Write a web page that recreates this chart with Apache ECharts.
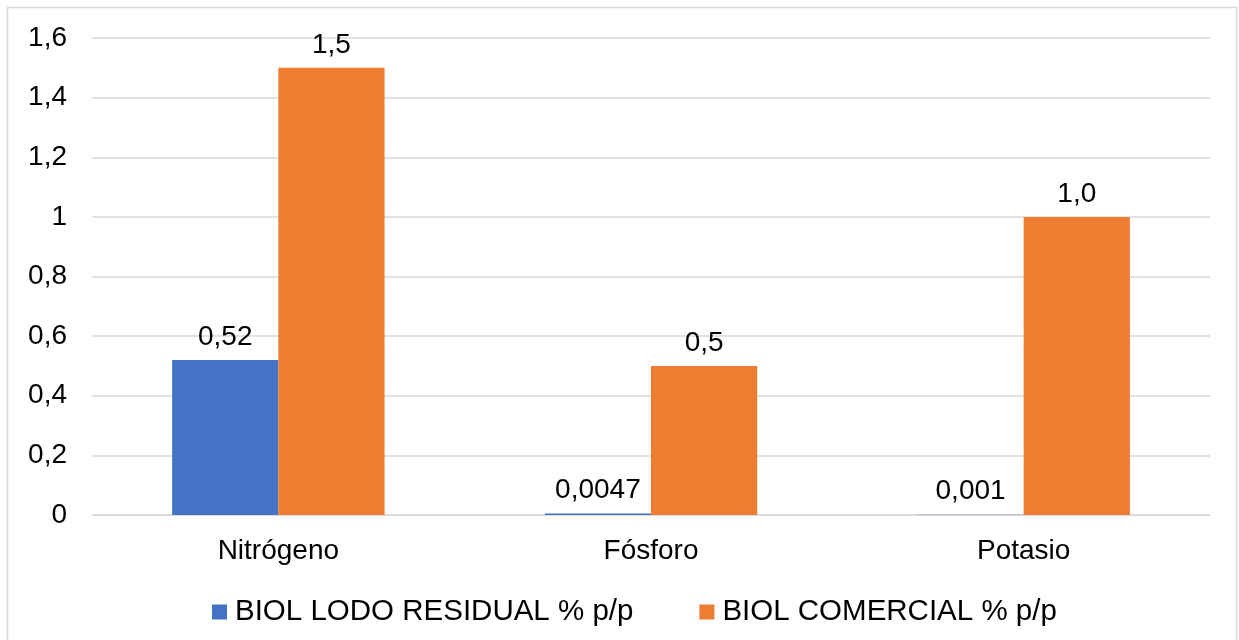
<!DOCTYPE html>
<html>
<head>
<meta charset="utf-8">
<script src="https://cdn.jsdelivr.net/npm/echarts@6/dist/echarts.min.js"></script>
<style>
  html, body { margin: 0; padding: 0; background: #fff; }
  #chart { width: 1239px; height: 640px; }
</style>
</head>
<body>
<div id="chart"></div>
<script>
// Nutrient content of the two biol products (% p/p)
const categories = ['Nitrógeno', 'Fósforo', 'Potasio'];
const seriesNames = ['BIOL LODO RESIDUAL % p/p', 'BIOL COMERCIAL % p/p'];
const lodoResidual = [0.52, 0.0047, 0.001];
const comercial = [1.5, 0.5, 1.0];
const yTicks = { min: 0, max: 1.6, interval: 0.2 };

const FONT = 'Liberation Sans, Arial, sans-serif';
const FS = 28;
const comma = v => String(v).replace('.', ',');

const chart = echarts.init(document.getElementById('chart'));
chart.setOption({
  backgroundColor: '#ffffff',
  animation: false,
  textStyle: { fontFamily: FONT },
  graphic: [{
    type: 'rect',
    shape: { x: 7.5, y: 7.5, width: 1229, height: 700 },
    style: { fill: 'none', stroke: '#d9d9d9', lineWidth: 1.5 },
    silent: true
  }],
  grid: { left: 92, right: 29, top: 38, bottom: 125 },
  legend: {
    top: 592,
    left: 207,
    itemWidth: 15,
    itemHeight: 15,
    itemGap: 66,
    icon: 'rect',
    textStyle: { fontSize: 29.5, color: '#000', fontFamily: FONT, padding: [0, 0, 0, 3] },
    data: seriesNames
  },
  xAxis: {
    type: 'category',
    data: categories,
    axisLine: { show: true, lineStyle: { color: '#d9d9d9', width: 1.5 } },
    axisTick: { show: false },
    axisLabel: { fontSize: FS, color: '#000', margin: 22, fontFamily: FONT }
  },
  yAxis: {
    type: 'value',
    min: yTicks.min,
    max: yTicks.max,
    interval: yTicks.interval,
    axisLine: { show: false },
    axisTick: { show: false },
    splitLine: { lineStyle: { color: '#d9d9d9', width: 1.5 } },
    axisLabel: {
      fontSize: FS, color: '#000', margin: 25, fontFamily: FONT,
      formatter: v => comma(Math.round(v * 10) / 10)
    }
  },
  series: [
    {
      name: seriesNames[0],
      type: 'bar',
      data: lodoResidual,
      barGap: '0%',
      barCategoryGap: '43%',
      itemStyle: { color: '#4472c4' },
      label: {
        show: true, position: 'top', distance: 9,
        fontSize: FS, color: '#000', fontFamily: FONT,
        formatter: p => comma(p.value)
      }
    },
    {
      name: seriesNames[1],
      type: 'bar',
      data: comercial,
      barGap: '0%',
      barCategoryGap: '43%',
      itemStyle: { color: '#ed7d31' },
      label: {
        show: true, position: 'top', distance: 9,
        fontSize: FS, color: '#000', fontFamily: FONT,
        formatter: p => comma(p.value.toFixed(1))
      }
    }
  ]
});
</script>
</body>
</html>
